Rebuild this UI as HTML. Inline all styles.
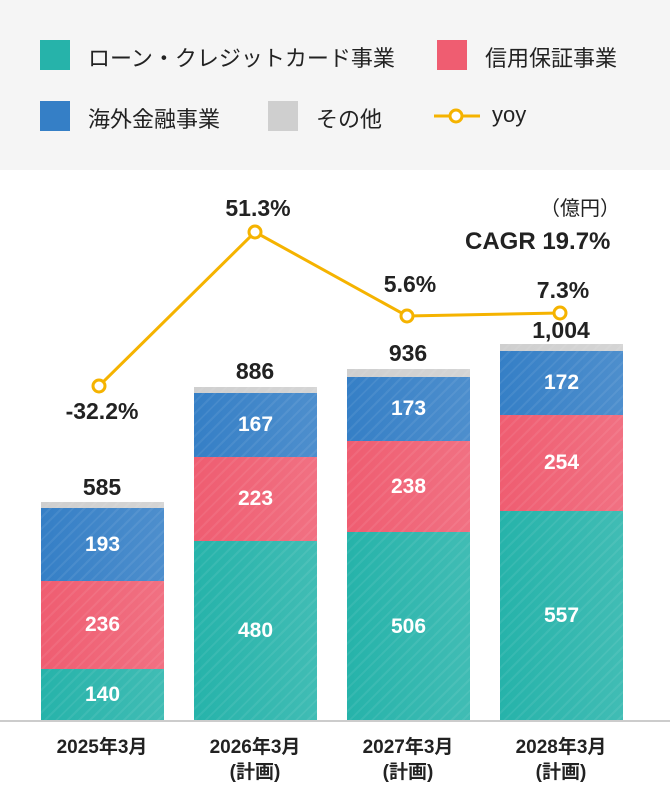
<!DOCTYPE html>
<html><head><meta charset="utf-8"><style>
body{margin:0;width:670px;height:795px;background:#fff;font-family:"Liberation Sans","Noto Sans CJK JP",sans-serif;position:relative;overflow:hidden}
.lg{position:absolute;left:0;top:0;width:670px;height:170px;background:#f5f5f5}
.t{position:absolute;font-size:22px;color:#222;white-space:nowrap}
.sw{position:absolute;width:30px;height:30px}
.b{position:absolute;color:#fff;font-weight:bold;font-size:21px;display:flex;align-items:center;justify-content:center;background-image:repeating-linear-gradient(135deg,rgba(255,255,255,0) 0 6px,rgba(255,255,255,.07) 6px 8px),linear-gradient(90deg,rgba(255,255,255,0),rgba(255,255,255,.12))}
.tl{position:absolute;font-weight:bold;font-size:23px;color:#222;text-align:center;width:160px}
.x{position:absolute;font-weight:bold;font-size:19px;color:#222;text-align:center;width:160px;line-height:25px;top:735px}
.te{background-color:#26b3aa}.re{background-color:#ef5d71}.bl{background-color:#357fc6}.gr{background-color:#cfcfcf}
</style></head><body>
<div class="lg">
<div class="sw te" style="left:40px;top:40px"></div><div class="t" style="left:88px;top:41px">ローン・クレジットカード事業</div>
<div class="sw re" style="left:437px;top:40px"></div><div class="t" style="left:485px;top:41px">信用保証事業</div>
<div class="sw bl" style="left:40px;top:101px"></div><div class="t" style="left:88px;top:102px">海外金融事業</div>
<div class="sw gr" style="left:268px;top:101px"></div><div class="t" style="left:316px;top:102px">その他</div>
<svg style="position:absolute;left:434px;top:104px" width="50" height="24"><line x1="0" y1="12" x2="46" y2="12" stroke="#f5b300" stroke-width="3"/><circle cx="22" cy="12" r="6" fill="#fff" stroke="#f5b300" stroke-width="3"/></svg>
<div class="t" style="left:492px;top:102px">yoy</div>
</div>
<div class="t" style="left:540px;top:192px;font-size:20px">（億円）</div>
<div class="t" style="left:465px;top:228px;font-weight:bold;font-size:24px">CAGR 19.7%</div>

<div class="b gr" style="left:41px;top:502px;width:123px;height:6px"></div>
<div class="b bl" style="left:41px;top:508px;width:123px;height:73px">193</div>
<div class="b re" style="left:41px;top:581px;width:123px;height:88px">236</div>
<div class="b te" style="left:41px;top:669px;width:123px;height:52px">140</div>

<div class="b gr" style="left:194px;top:387px;width:123px;height:6px"></div>
<div class="b bl" style="left:194px;top:393px;width:123px;height:64px">167</div>
<div class="b re" style="left:194px;top:457px;width:123px;height:84px">223</div>
<div class="b te" style="left:194px;top:541px;width:123px;height:180px">480</div>

<div class="b gr" style="left:347px;top:369px;width:123px;height:8px"></div>
<div class="b bl" style="left:347px;top:377px;width:123px;height:64px">173</div>
<div class="b re" style="left:347px;top:441px;width:123px;height:91px">238</div>
<div class="b te" style="left:347px;top:532px;width:123px;height:189px">506</div>

<div class="b gr" style="left:500px;top:344px;width:123px;height:7px"></div>
<div class="b bl" style="left:500px;top:351px;width:123px;height:64px">172</div>
<div class="b re" style="left:500px;top:415px;width:123px;height:96px">254</div>
<div class="b te" style="left:500px;top:511px;width:123px;height:210px">557</div>

<div style="position:absolute;left:0;top:720px;width:670px;height:2px;background:#ccc"></div>

<div class="tl" style="left:22px;top:474px">585</div>
<div class="tl" style="left:175px;top:358px">886</div>
<div class="tl" style="left:328px;top:340px">936</div>
<div class="tl" style="left:481px;top:317px">1,004</div>

<svg style="position:absolute;left:0;top:0" width="670" height="795">
<polyline points="99,386 255,232 407,316 560,313" fill="none" stroke="#f5b300" stroke-width="3"/>
<g fill="#fff" stroke="#f5b300" stroke-width="3"><circle cx="99" cy="386" r="6"/><circle cx="255" cy="232" r="6"/><circle cx="407" cy="316" r="6"/><circle cx="560" cy="313" r="6"/></g>
</svg>
<div class="tl" style="left:22px;top:398px">-32.2%</div>
<div class="tl" style="left:178px;top:195px">51.3%</div>
<div class="tl" style="left:330px;top:271px">5.6%</div>
<div class="tl" style="left:483px;top:277px">7.3%</div>

<div class="x" style="left:22px">2025年3月</div>
<div class="x" style="left:175px">2026年3月<br>(計画)</div>
<div class="x" style="left:328px">2027年3月<br>(計画)</div>
<div class="x" style="left:481px">2028年3月<br>(計画)</div>
</body></html>
